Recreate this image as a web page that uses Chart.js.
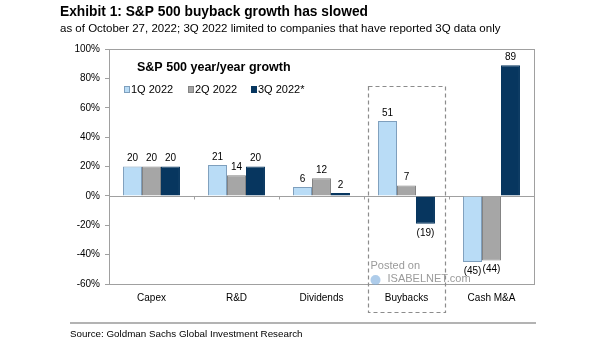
<!DOCTYPE html>
<html>
<head>
<meta charset="utf-8">
<script src="https://cdn.jsdelivr.net/npm/chart.js@4/dist/chart.umd.min.js"></script>
<style>
  html, body { margin: 0; padding: 0; background: #fff; }
  #wrap { width: 605px; height: 341px; position: relative; }
</style>
</head>
<body>
<div id="wrap"><canvas id="c" width="605" height="341"></canvas></div>
<script>
// S&P 500 year/year growth by use of cash (%)
const categories = ['Capex', 'R&D', 'Dividends', 'Buybacks', 'Cash M&A'];
const seriesNames = ['1Q 2022', '2Q 2022', '3Q 2022*'];
const q1_2022 = [20, 21, 6, 51, -45];
const q2_2022 = [20, 14, 12, 7, -44];
const q3_2022 = [20, 20, 2, -19, 89];
const yTicks = [-60, -40, -20, 0, 20, 40, 60, 80, 100];
const highlighted = 'Buybacks';

const FONT = "'Liberation Sans', Arial, Helvetica, sans-serif";
Chart.defaults.font.family = FONT;

const fills = ['#b9dcf6', '#a6a6a6', '#07365f'];
const edges = ['#7e9fbd', '#838383', '#07365f'];

// Headings, legend, frame, value labels and the dashed highlight box
const decorations = {
  id: 'decorations',
  beforeDatasetsDraw(chart) {
    const { ctx, chartArea: a, scales: { x, y } } = chart;
    ctx.save();
    // zero line with small ticks at category boundaries
    const y0 = Math.round(y.getPixelForValue(0)) + 0.5;
    ctx.strokeStyle = '#a0a0a0';
    ctx.lineWidth = 1;
    ctx.beginPath();
    ctx.moveTo(a.left, y0);
    ctx.lineTo(a.right, y0);
    for (let i = 1; i < categories.length; i++) {
      const bx = Math.round((x.getPixelForValue(i - 1) + x.getPixelForValue(i)) / 2) + 0.5;
      ctx.moveTo(bx, y0);
      ctx.lineTo(bx, y0 + 3);
    }
    ctx.stroke();
    ctx.restore();
  },
  afterDatasetsDraw(chart) {
    const { ctx, chartArea: a, scales: { x, y } } = chart;
    ctx.save();

    // frame around the plot
    ctx.strokeStyle = '#a0a0a0';
    ctx.lineWidth = 1;
    ctx.strokeRect(Math.round(a.left) + 0.5, Math.round(a.top) + 0.5,
      Math.round(a.right - a.left), Math.round(a.bottom - a.top));

    // value labels
    ctx.fillStyle = '#000';
    ctx.font = '10px ' + FONT;
    ctx.textAlign = 'center';
    chart.data.datasets.forEach((ds, di) => {
      const meta = chart.getDatasetMeta(di);
      meta.data.forEach((bar, i) => {
        const v = ds.data[i];
        if (v >= 0) {
          ctx.textBaseline = 'bottom';
          ctx.fillText(String(v), bar.x, bar.y - 3);
        } else {
          ctx.textBaseline = 'top';
          ctx.fillText('(' + (-v) + ')', bar.x, bar.y + 4);
        }
      });
    });

    // dashed box around the highlighted category
    const hi = categories.indexOf(highlighted);
    const step = x.getPixelForValue(1) - x.getPixelForValue(0);
    const cx = x.getPixelForValue(hi);
    const bx0 = Math.round(cx - step * 0.45) + 0.5;
    const bx1 = Math.round(cx + step * 0.45) + 0.5;
    const by0 = Math.round(y.getPixelForValue(75)) + 0.5;
    const by1 = Math.round(a.bottom + 28) + 0.5;
    ctx.setLineDash([4, 3]);
    ctx.strokeStyle = '#8c8c8c';
    ctx.lineWidth = 1.2;
    ctx.strokeRect(bx0, by0, bx1 - bx0, by1 - by0);
    ctx.setLineDash([]);

    // watermark
    ctx.textAlign = 'left';
    ctx.textBaseline = 'middle';
    ctx.fillStyle = '#9a9a9a';
    ctx.font = '11px ' + FONT;
    ctx.fillText('Posted on', bx0 + 2, a.bottom - 18);
    ctx.fillText('ISABELNET.com', bx0 + 19, a.bottom - 5);
    ctx.fillStyle = 'rgba(120,170,220,0.6)';
    ctx.beginPath();
    ctx.arc(bx0 + 7, a.bottom - 4, 5, 0, Math.PI * 2);
    ctx.fill();

    // inner chart heading
    ctx.fillStyle = '#000';
    ctx.font = 'bold 12.5px ' + FONT;
    ctx.textBaseline = 'middle';
    ctx.fillText('S&P 500 year/year growth', a.left + 28, a.top + 19);

    // legend
    ctx.font = '11px ' + FONT;
    const lx = [a.left + 15, a.left + 79, a.left + 142];
    const ly = a.top + 40;
    chart.data.datasets.forEach((ds, di) => {
      ctx.fillStyle = ds.backgroundColor;
      ctx.fillRect(lx[di], ly - 3, 6, 7);
      ctx.strokeStyle = ds.borderColor;
      ctx.lineWidth = 1;
      ctx.strokeRect(lx[di] + 0.5, ly - 2.5, 5, 6);
      ctx.fillStyle = '#000';
      ctx.fillText(ds.label, lx[di] + 7, ly + 1);
    });

    // page headings and source
    ctx.textBaseline = 'middle';
    ctx.font = 'bold 13.75px ' + FONT;
    ctx.fillText('Exhibit 1: S&P 500 buyback growth has slowed', 60, 12);
    ctx.font = '11.5px ' + FONT;
    ctx.fillText('as of October 27, 2022; 3Q 2022 limited to companies that have reported 3Q data only', 60, 29);

    ctx.strokeStyle = '#9a9a9a';
    ctx.lineWidth = 1.5;
    ctx.beginPath();
    ctx.moveTo(70, 323);
    ctx.lineTo(536, 323);
    ctx.stroke();
    ctx.font = '9.8px ' + FONT;
    ctx.fillText('Source: Goldman Sachs Global Investment Research', 70, 334);

    ctx.restore();
  }
};

const seriesValues = [q1_2022, q2_2022, q3_2022];

new Chart(document.getElementById('c'), {
  type: 'bar',
  data: {
    labels: categories,
    datasets: seriesValues.map((vals, i) => ({
      label: seriesNames[i],
      data: vals,
      backgroundColor: fills[i],
      borderColor: edges[i],
      borderWidth: 1,
      categoryPercentage: 0.67,
      barPercentage: 1.0
    }))
  },
  options: {
    responsive: false,
    devicePixelRatio: 1,
    animation: false,
    layout: { padding: { left: 0, right: 71, top: 49, bottom: 0 } },
    plugins: { legend: { display: false }, title: { display: false }, tooltip: { enabled: false } },
    scales: {
      x: {
        grid: { display: false, drawTicks: false },
        border: { display: false },
        ticks: { color: '#000', font: { size: 10 }, padding: 8 },
        afterFit(s) { s.height = 57; }
      },
      y: {
        min: yTicks[0],
        max: yTicks[yTicks.length - 1],
        afterBuildTicks(s) { s.ticks = yTicks.map(v => ({ value: v })); },
        ticks: { color: '#000', font: { size: 10 }, padding: 5, callback: v => v + '%' },
        grid: { drawOnChartArea: false, drawTicks: true, tickLength: 4, color: '#a0a0a0' },
        border: { display: false },
        afterFit(s) { s.width = 109; }
      }
    }
  },
  plugins: [decorations]
});
</script>
</body>
</html>
